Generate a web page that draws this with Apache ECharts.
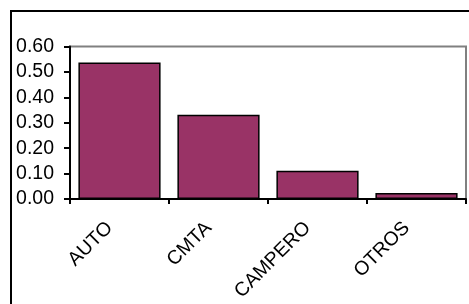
<!DOCTYPE html>
<head>
    <meta charset="utf-8">
    <title>ECharts</title>
</head>
<body style="margin:0">
<div id="main" style="width:469px;height:304px"></div>
<script src="https://cdn.jsdelivr.net/npm/echarts@6/dist/echarts.min.js"></script>
<script type="text/javascript">
    // datos
    var categorias = ['AUTO', 'CMTA', 'CAMPERO', 'OTROS'];
    var valores = [0.537, 0.331, 0.111, 0.024];
    var ticksY = [0, 0.1, 0.2, 0.3, 0.4, 0.5, 0.6];

    var myChart = echarts.init(document.getElementById('main'));
    myChart.setOption({
        animation: false,
        backgroundColor: '#fff',
        textStyle: { fontFamily: 'Liberation Sans, Arial, sans-serif' },
        graphic: [{
            type: 'rect',
            shape: { x: 11, y: 11, width: 600, height: 400 },
            style: { fill: 'none', stroke: '#000', lineWidth: 2 },
            z: -1
        }],
        grid: {
            left: 70, right: 3, top: 46.5, bottom: 105,
            show: true, borderColor: '#808080', borderWidth: 2
        },
        xAxis: {
            type: 'category',
            data: categorias,
            axisLine: { lineStyle: { color: '#000', width: 2 } },
            axisTick: { show: true, length: 5, lineStyle: { color: '#000', width: 2 } },
            axisLabel: { rotate: 45, margin: 16, padding: [0, 14, 0, 0], color: '#000', fontSize: 19.5 }
        },
        yAxis: {
            type: 'value',
            min: ticksY[0],
            max: ticksY[ticksY.length - 1],
            interval: 0.1,
            axisLine: { show: true, lineStyle: { color: '#000', width: 2 } },
            axisTick: { show: true, length: 6, lineStyle: { color: '#000', width: 2 } },
            splitLine: { show: false },
            axisLabel: {
                margin: 16, color: '#000', fontSize: 19.5,
                formatter: function (v) { return v.toFixed(2); }
            }
        },
        series: [{
            type: 'bar',
            data: valores,
            barCategoryGap: '17%',
            itemStyle: { color: '#993366', borderColor: '#000', borderWidth: 1.5 }
        }]
    });
</script>
</body>
